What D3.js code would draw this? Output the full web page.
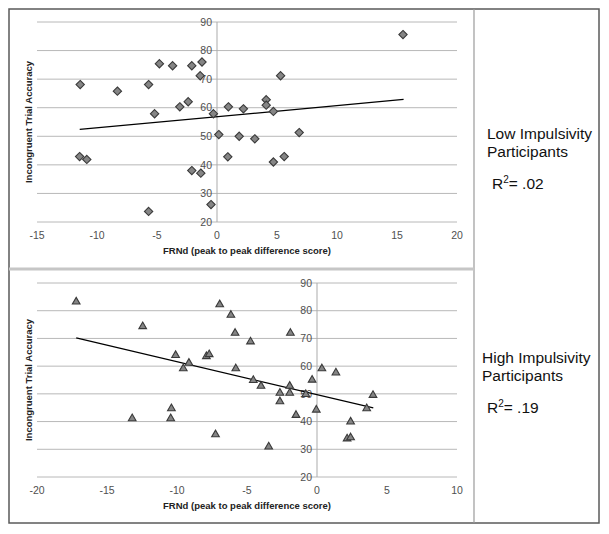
<!DOCTYPE html>
<html>
<head>
<meta charset="utf-8">
<script src="https://cdn.jsdelivr.net/npm/d3@7"></script>
<style>
  html, body { margin: 0; padding: 0; background: #fff; }
  svg { display: block; }
  text { font-family: "Liberation Sans", Arial, sans-serif; }
</style>
</head>
<body>
<svg id="chart" width="609" height="534"></svg>
<script>
// ---- Data ----
const xTicksLow = [-15, -10, -5, 0, 5, 10, 15, 20];
const xTicksHigh = [-20, -15, -10, -5, 0, 5, 10];
const yTicks = [20, 30, 40, 50, 60, 70, 80, 90];

const lowX = [-11.4, -8.3, -5.7, -4.8, -3.7, -2.1, -1.25, -1.4, -5.2, -3.1, -2.4, -0.3, 0.95, 0.15, 0.9, -11.45, -10.85, -2.1, -1.35, -0.5, -5.7, 15.5, 5.3, 4.1, 4.1, 2.2, 4.7, 1.85, 3.15, 6.85, 4.7, 5.6];
const lowY = [68.1, 65.8, 68.1, 75.4, 74.7, 74.7, 76.0, 71.2, 57.9, 60.3, 62.1, 57.9, 60.3, 50.6, 42.8, 42.9, 41.9, 38.0, 37.1, 26.1, 23.7, 85.6, 71.2, 62.8, 60.9, 59.6, 58.7, 50.0, 49.1, 51.3, 41.0, 42.9];

const highX = [-17.2, -12.45, -10.1, -7.9, -7.7, -9.15, -9.55, -6.95, -6.15, -10.4, -10.45, -13.2, -7.25, -5.85, -4.75, -1.9, -5.8, -4.55, -4.0, -2.65, -2.65, -1.95, -1.95, -0.35, -0.8, -0.05, -1.5, 0.35, 1.35, 2.4, 2.15, 2.4, 3.55, 4.0, -3.45];
const highY = [83.4, 74.5, 64.1, 63.7, 64.4, 61.3, 59.3, 82.4, 78.6, 44.9, 41.3, 41.3, 35.5, 72.1, 69.0, 72.1, 59.3, 55.1, 53.0, 50.5, 47.4, 53.0, 50.5, 55.2, 50.0, 44.4, 42.5, 59.3, 57.8, 40.1, 34.0, 34.4, 44.9, 49.7, 31.1];

// linear trend lines (endpoints)
const lowTrendX = [-11.44, 15.55];
const lowTrendY = [52.4, 62.9];
const highTrendX = [-17.2, 4.02];
const highTrendY = [70.2, 44.9];

const xTitle = "FRNd (peak to peak difference score)";
const yTitle = "Incongruent Trial Accuracy";
const lowLabel = ["Low Impulsivity", "Participants"];
const highLabel = ["High Impulsivity", "Participants"];
const lowR2 = ".02";
const highR2 = ".19";

// ---- Drawing ----
const svg = d3.select("#chart");

// frames
svg.append("rect").attr("x", 9).attr("y", 9).attr("width", 590).attr("height", 514)
  .attr("fill", "none").attr("stroke", "#5a5a5a").attr("stroke-width", 1.5);
svg.append("line").attr("x1", 474).attr("x2", 474).attr("y1", 9).attr("y2", 523)
  .attr("stroke", "#9a9a9a").attr("stroke-width", 1.2);
svg.append("line").attr("x1", 9).attr("x2", 474).attr("y1", 269).attr("y2", 269)
  .attr("stroke", "#c6c6c6").attr("stroke-width", 3);

function panel(cfg) {
  const g = svg.append("g");
  const x = d3.scaleLinear().domain(cfg.xDomain).range([37, 457]);
  const y = d3.scaleLinear().domain([20, 90]).range(cfg.yRange);

  // horizontal gridlines
  g.selectAll("line.grid").data(yTicks).join("line")
    .attr("x1", x(cfg.xDomain[0])).attr("x2", x(cfg.xDomain[1]))
    .attr("y1", d => y(d)).attr("y2", d => y(d))
    .attr("stroke", "#b8b8b8").attr("stroke-width", 1);

  // vertical axis at x = 0
  g.append("line").attr("x1", x(0)).attr("x2", x(0))
    .attr("y1", y(90)).attr("y2", y(20))
    .attr("stroke", "#ababab").attr("stroke-width", 1);

  // y tick labels (next to the zero axis)
  g.selectAll("text.yt").data(yTicks).join("text")
    .attr("x", x(0) - 5).attr("y", d => y(d)).attr("dy", "0.36em")
    .attr("text-anchor", "end").attr("font-size", 10.5).attr("fill", "#505050")
    .text(d => d);

  // x tick labels
  g.selectAll("text.xt").data(cfg.xTicks).join("text")
    .attr("x", d => x(d)).attr("y", y(20) + 17)
    .attr("text-anchor", "middle").attr("font-size", 10.5).attr("fill", "#505050")
    .text(d => d);

  // axis titles
  g.append("text").attr("x", 247).attr("y", y(20) + 32)
    .attr("text-anchor", "middle").attr("font-size", 9.5).attr("font-weight", "bold")
    .attr("fill", "#222").text(xTitle);
  g.append("text")
    .attr("transform", `translate(32,${(y(20) + y(90)) / 2}) rotate(-90)`)
    .attr("text-anchor", "middle").attr("font-size", 9.5).attr("font-weight", "bold")
    .attr("fill", "#222").text(yTitle);

  // trend line
  g.append("line")
    .attr("x1", x(cfg.trendX[0])).attr("y1", y(cfg.trendY[0]))
    .attr("x2", x(cfg.trendX[1])).attr("y2", y(cfg.trendY[1]))
    .attr("stroke", "#000").attr("stroke-width", 1.3);

  // points
  const pts = cfg.xs.map((v, i) => [v, cfg.ys[i]]);
  const sym = d3.symbol().type(cfg.symbol).size(cfg.size);
  g.selectAll("path.pt").data(pts).join("path")
    .attr("d", sym)
    .attr("transform", d => `translate(${x(d[0])},${y(d[1]) + (cfg.dy || 0)})`)
    .attr("fill", "#858585").attr("stroke", "#3a3a3a").attr("stroke-width", 1.1);
}

panel({ xDomain: [-15, 20], yRange: [222, 22], xTicks: xTicksLow, xs: lowX, ys: lowY,
        trendX: lowTrendX, trendY: lowTrendY, symbol: d3.symbolDiamond2, size: 44 });
panel({ xDomain: [-20, 10], yRange: [477, 283], xTicks: xTicksHigh, xs: highX, ys: highY,
        trendX: highTrendX, trendY: highTrendY, symbol: d3.symbolTriangle2, size: 42, dy: 0.5 });

// right-hand annotations
function annot(lines, r2, x0, yb) {
  const g = svg.append("g");
  lines.forEach((t, i) => {
    g.append("text").attr("x", x0).attr("y", yb + i * 17.5)
      .attr("font-size", 15.5).attr("fill", "#111").text(t);
  });
  const t = g.append("text").attr("x", x0 + 5).attr("y", yb + 50)
    .attr("font-size", 15.5).attr("fill", "#111");
  t.append("tspan").text("R");
  t.append("tspan").attr("font-size", 10).attr("dy", -6).text("2");
  t.append("tspan").attr("dy", 6).text("= " + r2);
}
annot(lowLabel, lowR2, 487, 139);
annot(highLabel, highR2, 482, 363);
</script>
</body>
</html>
